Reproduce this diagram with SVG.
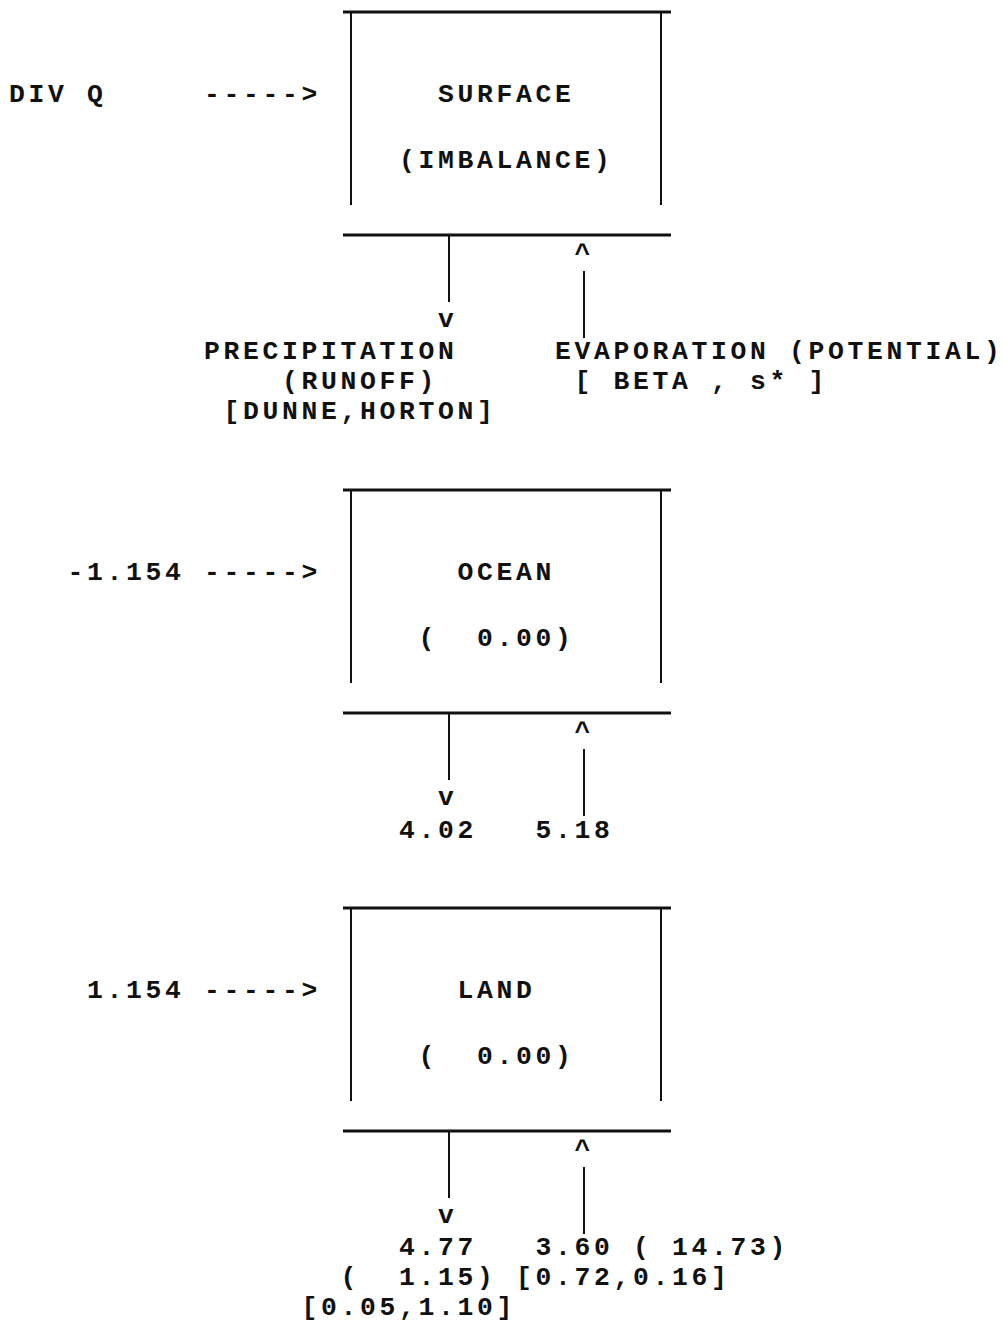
<svg xmlns="http://www.w3.org/2000/svg" width="1004" height="1328" viewBox="0 0 1004 1328" xml:space="preserve">
<style>
text{font-family:"Liberation Mono","DejaVu Sans Mono",monospace;font-weight:bold;font-size:26.4px;letter-spacing:3.66px;fill:#111;white-space:pre}
.hl{stroke:#111;stroke-width:3;fill:none}
.vl{stroke:#111;stroke-width:2;fill:none}
</style>
<rect width="1004" height="1328" fill="#fff"/>
<!-- SURFACE -->
<g id="surface">
<line class="hl" x1="343" y1="12" x2="671" y2="12"/>
<line class="vl" x1="351" y1="12" x2="351" y2="205"/>
<line class="vl" x1="661" y1="12" x2="661" y2="205"/>
<line class="hl" x1="343" y1="235" x2="671" y2="235"/>
<text x="438" y="102">SURFACE</text>
<text x="399" y="168">(IMBALANCE)</text>
</g>
<g id="surface-input">
<text x="9" y="102">DIV Q     -----&gt;</text>
</g>
<g id="surface-precip">
<text x="204" y="359">PRECIPITATION</text>
<text x="204" y="389">    (RUNOFF)</text>
<text x="204" y="419"> [DUNNE,HORTON]</text>
</g>
<g id="surface-evap">
<text x="555" y="359">EVAPORATION (POTENTIAL)</text>
<text x="555" y="389"> [ BETA , s* ]</text>
</g>
<!-- OCEAN -->
<g id="ocean">
<line class="hl" x1="343" y1="490" x2="671" y2="490"/>
<line class="vl" x1="351" y1="490" x2="351" y2="683"/>
<line class="vl" x1="661" y1="490" x2="661" y2="683"/>
<line class="hl" x1="343" y1="713" x2="671" y2="713"/>
<text x="457.5" y="580">OCEAN</text>
<text x="418.5" y="646">(  0.00)</text>
</g>
<g id="ocean-input">
<text x="67.5" y="580">-1.154 -----&gt;</text>
</g>
<g id="ocean-values">
<text x="399" y="838">4.02   5.18</text>
</g>
<!-- LAND -->
<g id="land">
<line class="hl" x1="343" y1="908" x2="671" y2="908"/>
<line class="vl" x1="351" y1="908" x2="351" y2="1101"/>
<line class="vl" x1="661" y1="908" x2="661" y2="1101"/>
<line class="hl" x1="343" y1="1131" x2="671" y2="1131"/>
<text x="457.5" y="998">LAND</text>
<text x="418.5" y="1064">(  0.00)</text>
</g>
<g id="land-input">
<text x="87" y="998">1.154 -----&gt;</text>
</g>
<g id="land-values">
<text x="399" y="1255">4.77   3.60 ( 14.73)</text>
<text x="340.5" y="1285">(  1.15) [0.72,0.16]</text>
<text x="301.5" y="1315">[0.05,1.10]</text>
</g>
<!-- connectors -->
<g id="connectors">
<line class="vl" x1="449" y1="235" x2="449" y2="302"/>
<text x="438" y="327">v</text>
<text x="574.5" y="262">^</text>
<line class="vl" x1="584" y1="271" x2="584" y2="338"/>
<line class="vl" x1="449" y1="713" x2="449" y2="780"/>
<text x="438" y="805">v</text>
<text x="574.5" y="740">^</text>
<line class="vl" x1="584" y1="749" x2="584" y2="816"/>
<line class="vl" x1="449" y1="1131" x2="449" y2="1198"/>
<text x="438" y="1223">v</text>
<text x="574.5" y="1158">^</text>
<line class="vl" x1="584" y1="1167" x2="584" y2="1234"/>
</g>
</svg>
